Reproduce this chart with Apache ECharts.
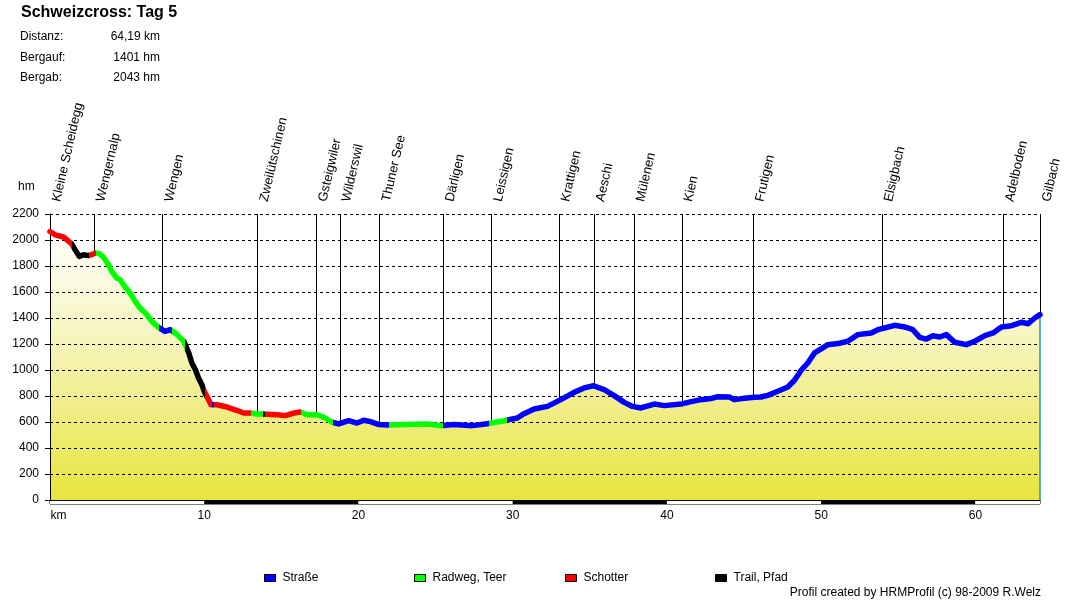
<!DOCTYPE html>
<html>
<head>
<meta charset="utf-8">
<script src="https://cdn.jsdelivr.net/npm/echarts@6/dist/echarts.min.js"></script>
<style>
html,body{margin:0;padding:0;background:#ffffff;}
#chart{width:1090px;height:600px;}
</style>
</head>
<body>
<div id="chart"></div>
<script>
// ---------------- DATA ----------------
const titleText = 'Schweizcross: Tag 5';
const statLabels = ['Distanz:', 'Bergauf:', 'Bergab:'];
const statValues = ['64,19 km', '1401 hm', '2043 hm'];
const creditText = 'Profil created by HRMProfil (c) 98-2009 R.Welz';
const totalKm = 64.19;

// profile: distance (km) and elevation (m)
const kmValues = [
  0, 0.33, 0.87, 1.08, 1.41, 1.62, 1.9, 2.17, 2.5, 2.75, 2.95, 3.2, 3.46, 3.79, 4.0,
  4.33, 4.55, 4.87, 5.19, 5.52, 5.84, 6.28, 6.6, 7.03, 7.45, 7.8, 8.07, 8.35, 8.68,
  9.0, 9.2, 9.42, 9.63, 9.85, 10.0, 10.28, 10.43, 10.55, 10.82, 11.47, 12.1, 12.56,
  13.03, 13.4, 13.75, 13.86, 14.72, 15.26, 15.8, 16.23, 16.67, 17.32, 17.86, 18.29,
  18.72, 19.37, 19.91, 20.34, 20.78, 21.32, 21.86, 23.16, 24.46, 25.32, 26.19, 27.38,
  28.35, 29.44, 29.76, 30.3, 30.74, 31.39, 32.25, 33.12, 33.98, 34.63, 35.24, 35.93,
  36.58, 37.23, 37.77, 38.31, 39.18, 39.83, 40.91, 41.5, 42.2, 42.86, 43.3, 44.05,
  44.37, 45.02, 45.67, 46.1, 46.54, 47.19, 47.84, 48.27, 48.7, 49.13, 49.57, 50.0,
  50.43, 51.08, 51.73, 52.38, 53.25, 53.68, 54.11, 54.76, 55.41, 55.95, 56.39, 56.82,
  57.25, 57.69, 58.12, 58.66, 59.42, 59.96, 60.61, 61.15, 61.69, 62.34, 62.99, 63.42,
  63.85, 64.19
];
const elevValues = [
  2065, 2040, 2023, 2003, 1969, 1926, 1874, 1887, 1880, 1890, 1900, 1895, 1869, 1810, 1759,
  1708, 1695, 1638, 1592, 1528, 1477, 1426, 1374, 1328, 1297, 1310, 1290, 1259, 1220,
  1131, 1054, 1003, 939, 887, 836, 772, 733, 746, 733, 715, 690, 669,
  669, 661, 661, 661, 656, 649, 669, 677, 656, 656, 631, 598,
  585, 610, 592, 613, 603, 580, 577, 580, 585, 572, 580, 572,
  587, 610, 618, 631, 664, 700, 720, 772, 828, 862, 879, 849,
  803, 751, 720, 708, 738, 726, 738, 755, 772, 780, 795, 792,
  772, 782, 790, 792, 805, 836, 869, 921, 997, 1054, 1131, 1162,
  1195, 1203, 1221, 1272, 1285, 1310, 1323, 1344, 1331, 1310, 1251, 1238,
  1264, 1254, 1272, 1213, 1195, 1221, 1264, 1285, 1331, 1341, 1367, 1356,
  1400, 1426
];

// surface types
const surfaceNames = ['Straße', 'Radweg, Teer', 'Schotter', 'Trail, Pfad'];
const surfaceColors = ['#0000ff', '#00ff00', '#ff0000', '#000000'];
// surface segments along the route (km from, km to, surface index)
const segmentStart = [0, 1.41, 2.55, 2.98, 7.05, 7.9, 8.75, 10.02, 10.48, 10.65, 13.05, 13.8, 13.92, 16.28, 18.35, 21.95, 25.45, 28.45, 29.6];
const segmentEnd   = [1.41, 2.55, 2.98, 7.05, 7.9, 8.75, 10.02, 10.48, 10.65, 13.05, 13.8, 13.92, 16.28, 18.35, 21.95, 25.45, 28.45, 29.6, 64.19];
const segmentType  = [2, 3, 2, 1, 0, 1, 3, 2, 0, 2, 1, 3, 2, 1, 0, 1, 0, 1, 0];

// waypoints
const waypointNames = ['Kleine Scheidegg', 'Wengernalp', 'Wengen', 'Zweilütschinen', 'Gsteigwiler', 'Wilderswil',
  'Thuner See', 'Därligen', 'Leissigen', 'Krattigen', 'Aeschi', 'Mülenen', 'Kien', 'Frutigen', 'Elsigbach',
  'Adelboden', 'Gilbach'];
const waypointKm = [0, 2.86, 7.3, 13.46, 17.27, 18.79, 21.38, 25.5, 28.62, 33.0, 35.26, 37.86, 40.97, 45.6, 53.94, 61.8, 64.19];

// axis ticks
const yMin = 0, yMax = 2200, yStep = 200;
const xMin = 0, xStep = 10;

// ---------------- BUILD ----------------
const FONT = '"Liberation Sans", Arial, Helvetica, sans-serif';
const profile = kmValues.map((k, i) => [k, elevValues[i]]);

function elevAt(km) {
  for (let i = 0; i < kmValues.length - 1; i++) {
    if (km >= kmValues[i] && km <= kmValues[i + 1]) {
      const t = (km - kmValues[i]) / (kmValues[i + 1] - kmValues[i] || 1);
      return elevValues[i] + t * (elevValues[i + 1] - elevValues[i]);
    }
  }
  return elevValues[elevValues.length - 1];
}

// first piece open to the left, last piece open to the right (so the line caps keep their colour)
const pieces = segmentStart.map((s, i) => {
  const p = { color: surfaceColors[segmentType[i]] };
  if (i > 0) p.gte = s;
  if (i < segmentStart.length - 1) p.lt = segmentEnd[i];
  return p;
});

const waypointData = waypointNames.map((n, i) => ({ name: n, value: [waypointKm[i], yMax] }));
const waypointLines = waypointKm.map(k => [
  { coord: [k, elevAt(k)] },
  { coord: [k, yMax] }
]);

const legendLeft = [264, 414, 565, 715];

const chart = echarts.init(document.getElementById('chart'), null, { renderer: 'canvas' });

const graphics = [
  { type: 'text', x: 21, y: 13, style: { text: titleText, font: 'bold 16px ' + FONT, fill: '#000', verticalAlign: 'middle', align: 'left' } },
  { type: 'text', x: 18, y: 187, style: { text: 'hm', font: '12px ' + FONT, fill: '#000', verticalAlign: 'middle', align: 'left' } },
  { type: 'text', x: 1041, y: 593, style: { text: creditText, font: '12px ' + FONT, fill: '#000', verticalAlign: 'middle', align: 'right' } }
];
const statY = [37, 58, 78];
statLabels.forEach((l, i) => {
  graphics.push({ type: 'text', x: 20, y: statY[i], style: { text: l, font: '12px ' + FONT, fill: '#000', verticalAlign: 'middle', align: 'left' } });
  graphics.push({ type: 'text', x: 160, y: statY[i], style: { text: statValues[i], font: '12px ' + FONT, fill: '#000', verticalAlign: 'middle', align: 'right' } });
});

const option = {
  animation: false,
  backgroundColor: '#ffffff',
  textStyle: { fontFamily: FONT },
  graphic: graphics,
  legend: surfaceNames.map((n, i) => ({
    data: [n],
    left: legendLeft[i],
    top: 572,
    padding: 0,
    icon: 'rect',
    itemWidth: 11,
    itemHeight: 7,
    itemGap: 0,
    selectedMode: false,
    itemStyle: { borderColor: '#000', borderWidth: 1 },
    textStyle: { fontSize: 12, color: '#000', fontFamily: FONT, padding: [0, 0, 0, 2] }
  })),
  grid: [
    { left: 50, right: 50, top: 214, bottom: 100, outerBoundsMode: 'none' },
    { left: 50, right: 50, top: 500, height: 4, show: true, borderColor: '#000', borderWidth: 1, backgroundColor: 'transparent', outerBoundsMode: 'none' }
  ],
  xAxis: [
    {
      type: 'value', gridIndex: 0, min: xMin, max: totalKm, interval: xStep, z: 3,
      axisLine: { show: true, lineStyle: { color: '#000', width: 1 } },
      axisTick: { show: false },
      splitLine: { show: false },
      axisLabel: {
        show: true, margin: 10, fontSize: 12, color: '#000', fontFamily: FONT,
        showMaxLabel: false,
        formatter: v => (v === 0 ? '{k|km}' : (v > 60.5 ? '' : String(v))),
        rich: { k: { padding: [0, 0, 0, 17], fontSize: 12, color: '#000', fontFamily: FONT } }
      }
    },
    {
      type: 'value', gridIndex: 1, min: xMin, max: totalKm, interval: xStep,
      axisLine: { show: false }, axisTick: { show: false }, axisLabel: { show: false },
      splitLine: { show: false },
      splitArea: { show: true, areaStyle: { color: ['#ffffff', '#000000'] } }
    }
  ],
  yAxis: [
    {
      type: 'value', gridIndex: 0, min: yMin, max: yMax, interval: yStep, z: 3,
      axisLine: { show: true, lineStyle: { color: '#000', width: 1 } },
      axisTick: { show: true, length: 5, lineStyle: { color: '#000' } },
      axisLabel: { margin: 11, fontSize: 12, color: '#000', fontFamily: FONT, formatter: v => String(v) },
      splitLine: { show: true, lineStyle: { color: '#000', width: 1, type: [3, 3] } }
    },
    { type: 'value', gridIndex: 1, min: 0, max: 1, show: false }
  ],
  visualMap: {
    show: false,
    type: 'piecewise',
    seriesIndex: 1,
    dimension: 0,
    pieces: pieces,
    outOfRange: { color: '#0000ff' }
  },
  series: [
    {
      type: 'line', data: profile, symbol: 'none', z: 1, silent: true,
      lineStyle: { width: 0, opacity: 0 },
      areaStyle: {
        opacity: 1,
        color: new echarts.graphic.LinearGradient(0, 0, 0, 1, [
          { offset: 0, color: '#ffffff' },
          { offset: 0.45, color: '#f5f3b4' },
          { offset: 1, color: '#e8e53c' }
        ])
      },
      markLine: {
        silent: true, symbol: ['none', 'none'], label: { show: false },
        lineStyle: { color: '#1f9a9a', width: 1.5, type: 'solid' },
        data: [[{ coord: [totalKm, 0] }, { coord: [totalKm, elevAt(totalKm)] }]]
      }
    },
    {
      type: 'line', data: profile, symbol: 'none', z: 5, silent: true,
      lineStyle: { width: 5.5, cap: 'round', join: 'round' }
    },
    {
      type: 'scatter', data: waypointData, symbolSize: 1, z: 4, silent: true,
      itemStyle: { color: 'rgba(0,0,0,0)' },
      label: {
        show: true, formatter: p => p.name, position: [7, -12], rotate: 77,
        align: 'left', verticalAlign: 'middle', fontSize: 13, color: '#000', fontFamily: FONT,
        opacity: 1, textBorderWidth: 0
      },
      markLine: {
        silent: true, symbol: ['none', 'none'], label: { show: false },
        lineStyle: { color: '#000', width: 1, type: 'solid' },
        data: waypointLines
      }
    }
  ].concat(surfaceNames.map((n, i) => ({
    type: 'line', name: n, data: [], color: surfaceColors[i], itemStyle: { color: surfaceColors[i] }
  })))
};

chart.setOption(option);
</script>
</body>
</html>
